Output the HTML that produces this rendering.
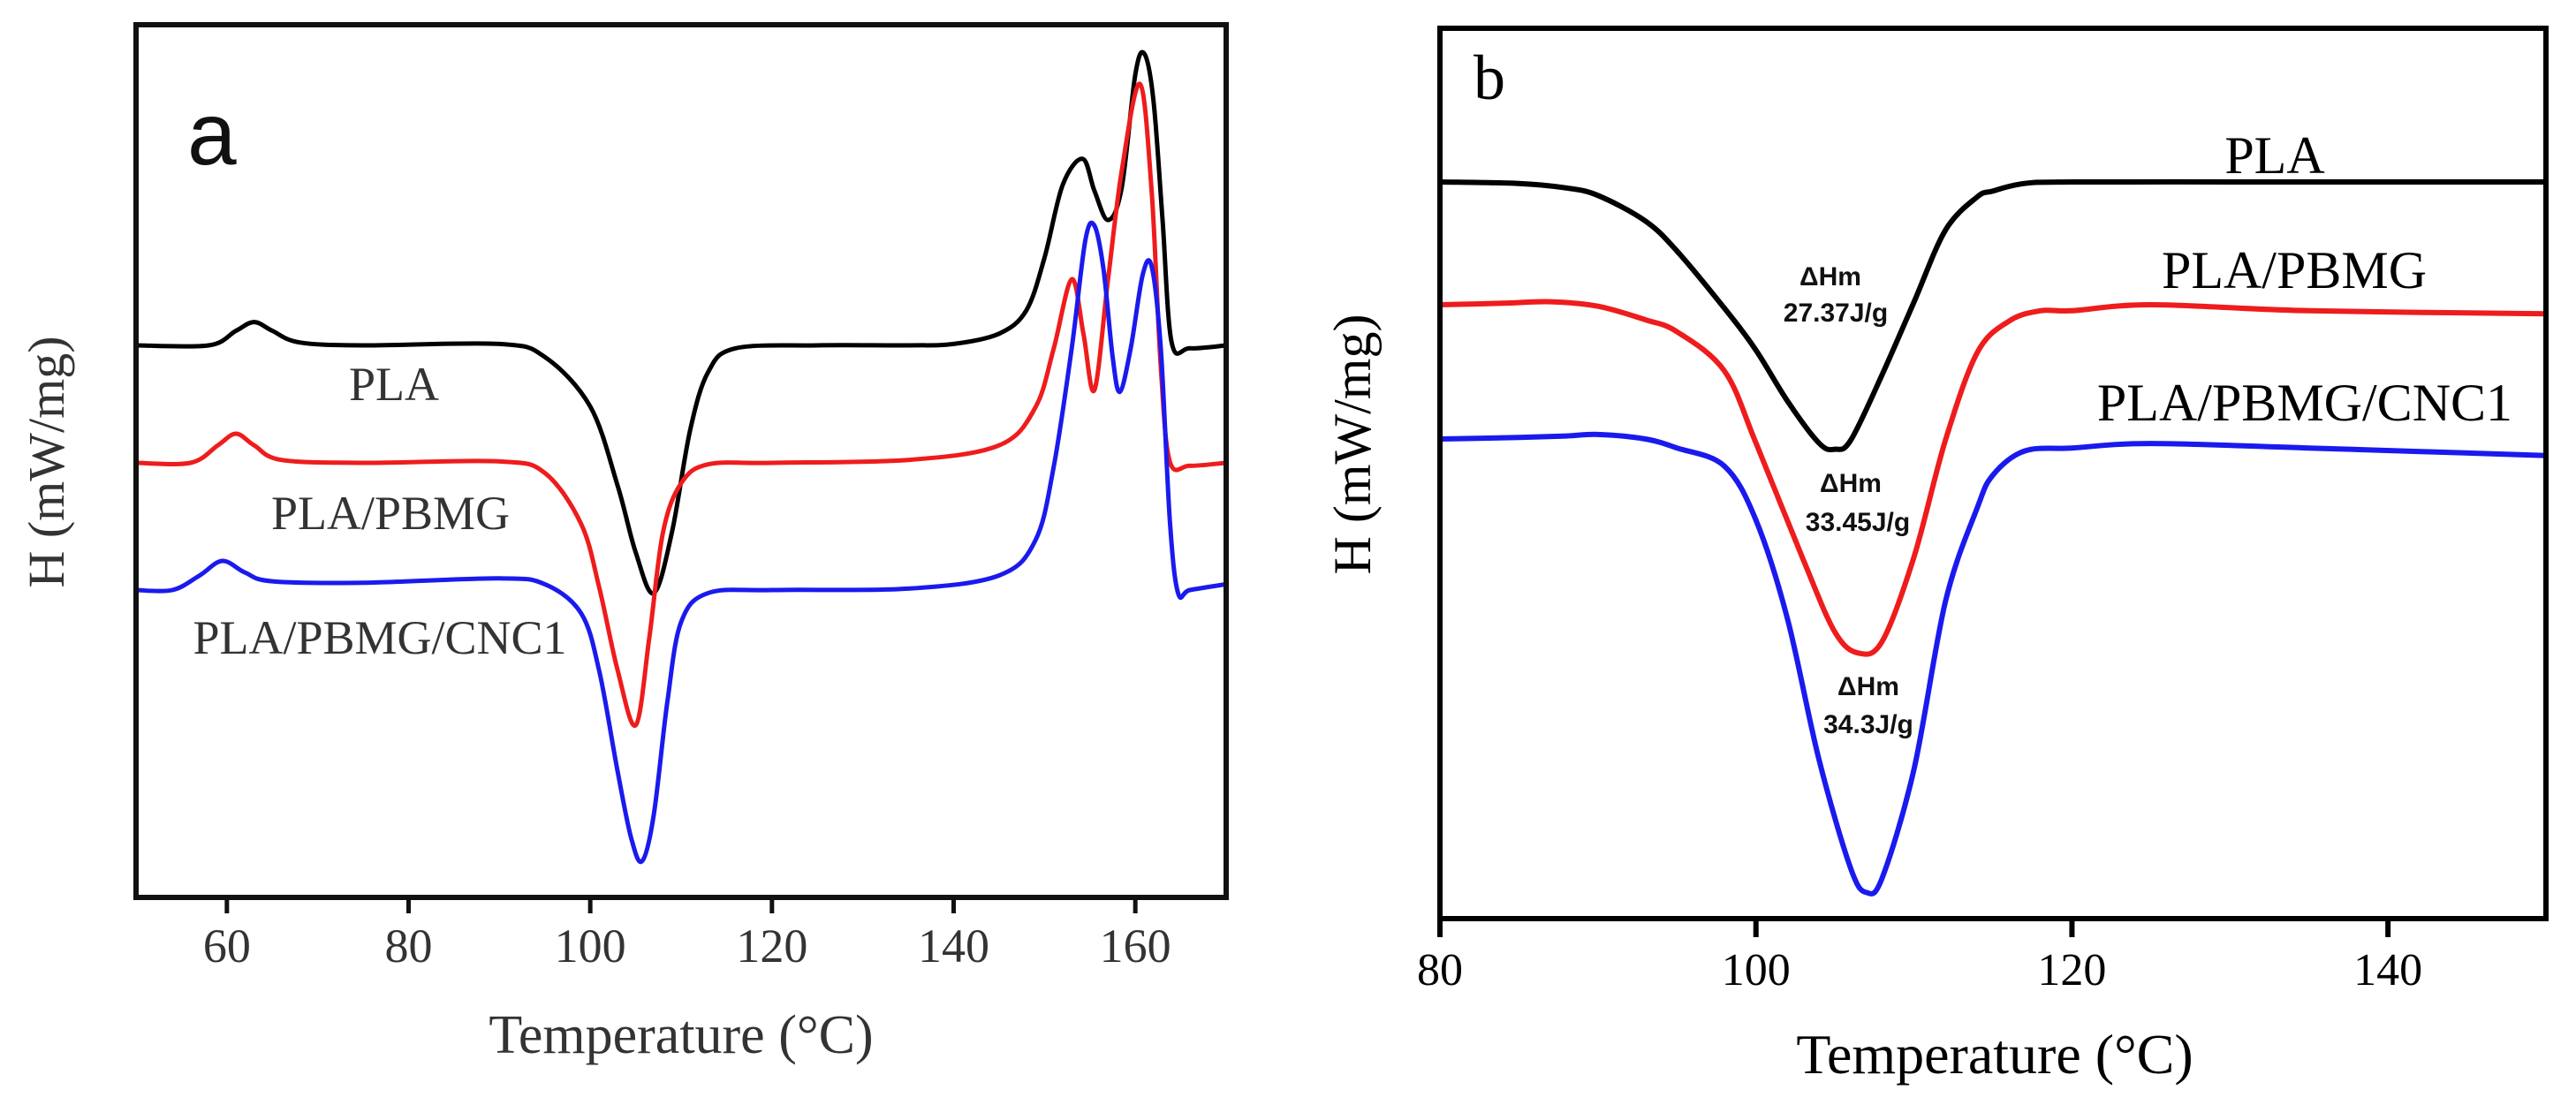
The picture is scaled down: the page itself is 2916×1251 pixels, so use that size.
<!DOCTYPE html>
<html><head><meta charset="utf-8"><style>
html,body{margin:0;padding:0;background:#fff;}
svg{display:block;}
text{font-family:"Liberation Serif",serif;}
</style></head><body>
<svg id="fig" width="2916" height="1251" viewBox="0 0 2916 1251" xmlns="http://www.w3.org/2000/svg">
<g id="pa"></g>
<g id="pb"></g>
</svg>
<script>
// ---- Panel a data ----
const aTicks = [60, 80, 100, 120, 140, 160];
const aPLA_T = [50,58,61,63,65,68,75,90,95,100,103,105,107,109,111,113,116,125,135,140,145,148,150,152,154.2,155.5,157,158.5,160,161,162,163,164,166,170];
const aPLA_H = [0,0,0.5,0.8,0.5,0.1,0,0.05,-0.4,-2.1,-4.8,-7.1,-8.5,-6.4,-2.9,-0.9,-0.1,0,0,0.05,0.4,1.2,3.0,5.5,6.4,5.3,4.3,5.4,9.3,10.0,8.4,4.3,0.1,-0.1,0];
const aPBMG_T = [50,56,59,61,63,66,75,90,95,99,101,103,105,106.5,108,110,113,120,135,145,149,151,153,154.3,155.5,157,158.5,160.5,161.8,162.8,163.8,166,170];
const aPBMG_H = [0,0,0.6,1.0,0.6,0.1,0,0.05,-0.35,-2.1,-4.3,-7.1,-9.0,-6.0,-2.4,-0.7,-0.05,0,0.1,0.6,1.9,3.9,6.3,4.4,2.5,6.3,10.0,13.0,9.3,3.3,0.05,-0.1,0];
const aCNC_T = [50,54,57,59.5,62,65,75,90,95,99,101,103,104.5,105.7,107,108.5,110,113,120,135,145,149,151,153,154.5,155.5,156.5,157.5,158.3,159.5,160.8,161.8,162.8,163.8,164.7,166,170];
const aCNC_H = [0,0,0.5,1.0,0.6,0.3,0.25,0.4,0.2,-0.8,-2.8,-6.2,-8.5,-9.3,-7.7,-3.8,-1.1,-0.1,0,0.05,0.5,1.7,4.2,8.3,12.0,12.5,11.0,8.0,6.8,8.3,10.8,11.1,8.3,2.4,-0.1,0,0.2];
const aBase = [391, 524, 668];
const aNames = ["PLA","PLA/PBMG","PLA/PBMG/CNC1"];
// ---- Panel b data ----
const bTicks = [80, 100, 120, 140];
const bPLA_T = [80,85,88,90,93,95,98,100,102,104,105,106,108,110,112,114,115,117,120,130,140,150];
const bPLA_H = [0,-0.05,-0.2,-0.45,-1.3,-2.3,-4.2,-5.6,-7.3,-8.7,-8.9,-8.6,-6.4,-4.0,-1.6,-0.5,-0.3,-0.05,0,0,0,0];
const bPBMG_T = [80,84,87,90,93,95,98,100,103,105,106.5,108,110,112,114,116,118,120,125,135,150];
const bPBMG_H = [0,0.05,0.1,-0.05,-0.5,-0.9,-2.2,-4.6,-8.5,-10.9,-11.6,-11.2,-8.4,-4.5,-1.6,-0.55,-0.2,-0.2,0,-0.2,-0.3];
const bCNC_T = [80,85,88,90,93,95,98,100,102,104,106,107,108,110,112,114,115,117,120,125,135,150];
const bCNC_H = [0,0.05,0.1,0.15,0,-0.3,-0.9,-2.7,-6.0,-10.7,-14.3,-15.1,-14.6,-11.0,-5.4,-2.3,-1.2,-0.4,-0.3,-0.15,-0.3,-0.55];
const bBase = [206, 345, 497];
const bNames = ["PLA","PLA/PBMG","PLA/PBMG/CNC1"];
const dHm = ["27.37J/g","33.45J/g","34.3J/g"];

const NS="http://www.w3.org/2000/svg";
function mk(parent, tag, attrs){const e=document.createElementNS(NS,tag);for(const k in attrs)e.setAttribute(k,attrs[k]);parent.appendChild(e);return e;}
function pathD(xs, ys){
  let d="M"+xs[0].toFixed(1)+","+ys[0].toFixed(1);
  for(let i=0;i<xs.length-1;i++){
    const x0=xs[Math.max(i-1,0)],y0=ys[Math.max(i-1,0)],x1=xs[i],y1=ys[i],x2=xs[i+1],y2=ys[i+1],x3=xs[Math.min(i+2,xs.length-1)],y3=ys[Math.min(i+2,xs.length-1)];
    const c1x=x1+(x2-x0)/6,c1y=y1+(y2-y0)/6,c2x=x2-(x3-x1)/6,c2y=y2-(y3-y1)/6;
    d+=" C"+c1x.toFixed(1)+","+c1y.toFixed(1)+" "+c2x.toFixed(1)+","+c2y.toFixed(1)+" "+x2.toFixed(1)+","+y2.toFixed(1);
  }
  return d;
}
const colors=["#000000","#ee1c1c","#1a1aee"];

// ----- Panel a -----
(function(){
  const g=document.getElementById('pa');
  const L=154,R=1388,T=28,B=1016,x0=50,x1=170;
  const xa=t=>L+(t-x0)*(R-L)/(x1-x0);
  const ya=(h,base)=>base-h*33;
  const series=[[aPLA_T,aPLA_H],[aPBMG_T,aPBMG_H],[aCNC_T,aCNC_H]];
  series.forEach((s,i)=>{
    const p=mk(g,'path',{d:pathD(s[0].map(xa),s[1].map(h=>ya(h,aBase[i]))),fill:'none',stroke:colors[i],'stroke-width':5,'stroke-linejoin':'round'});
    
    
  });
  const fr=mk(g,'rect',{x:L,y:T,width:R-L,height:B-T,fill:'none',stroke:'#111','stroke-width':6});
  
  
  aTicks.forEach(t=>{
    const tk=mk(g,'line',{x1:xa(t),x2:xa(t),y1:B,y2:B+18,stroke:'#111','stroke-width':5});
    
    
    const tl=mk(g,'text',{x:xa(t),y:1089,'font-size':54,'text-anchor':'middle',fill:'#333'});
    tl.textContent=t;
    
    
  });
  const lab=[[446,453],[442,599],[430,740]];
  aNames.forEach((n,i)=>{
    const t=mk(g,'text',{x:lab[i][0],y:lab[i][1],'font-size':54,'text-anchor':'middle',fill:'#333'});
    t.textContent=n;
    
    
  });
  const a=mk(g,'text',{x:212,y:186,'font-size':100,fill:'#111',style:'font-family:"Liberation Sans",sans-serif'});
  a.textContent='a';
  
  
  const yt=mk(g,'text',{x:0,y:0,'font-size':58,'text-anchor':'middle',fill:'#333',transform:'translate(72,523) rotate(-90)'});
  yt.textContent='H (mW/mg)';
  
  
  const xt=mk(g,'text',{x:771,y:1192,'font-size':62,'text-anchor':'middle',fill:'#333'});
  xt.textContent='Temperature (°C)';
  
  
})();

// ----- Panel b -----
(function(){
  const g=document.getElementById('pb');
  const L=1630,R=2882,T=32,B=1040,x0=80,x1=150;
  const xb=t=>L+(t-x0)*(R-L)/(x1-x0);
  const yb=(h,base)=>base-h*34;
  const series=[[bPLA_T,bPLA_H],[bPBMG_T,bPBMG_H],[bCNC_T,bCNC_H]];
  series.forEach((s,i)=>{
    const p=mk(g,'path',{d:pathD(s[0].map(xb),s[1].map(h=>yb(h,bBase[i]))),fill:'none',stroke:colors[i],'stroke-width':6,'stroke-linejoin':'round'});
    
    
  });
  const fr=mk(g,'rect',{x:L,y:T,width:R-L,height:B-T,fill:'none',stroke:'#000','stroke-width':6});
  
  
  bTicks.forEach(t=>{
    const tk=mk(g,'line',{x1:xb(t),x2:xb(t),y1:B,y2:B+21,stroke:'#000','stroke-width':6});
    
    
    const tl=mk(g,'text',{x:xb(t),y:1115,'font-size':52,'text-anchor':'middle',fill:'#000'});
    tl.textContent=t;
    
    
  });
  const lab=[[2575,196],[2597,326],[2609,476]];
  bNames.forEach((n,i)=>{
    const t=mk(g,'text',{x:lab[i][0],y:lab[i][1],'font-size':60,'text-anchor':'middle',fill:'#000'});
    t.textContent=n;
    
    
  });
  const dpos=[[2072,323,2078,364],[2095,557,2103,601],[2115,787,2115,830]];
  dHm.forEach((v,i)=>{
    const t1=mk(g,'text',{x:dpos[i][0],y:dpos[i][1],'font-size':30,'font-weight':'bold','text-anchor':'middle',fill:'#111',style:'font-family:"Liberation Sans",sans-serif'});
    t1.textContent='ΔHm';
    
    
    const t2=mk(g,'text',{x:dpos[i][2],y:dpos[i][3],'font-size':30,'font-weight':'bold','text-anchor':'middle',fill:'#111',style:'font-family:"Liberation Sans",sans-serif'});
    t2.textContent=v;
    
    
  });
  const b=mk(g,'text',{x:1668,y:112,'font-size':72,fill:'#000'});
  b.textContent='b';
  
  
  const yt=mk(g,'text',{x:0,y:0,'font-size':60,'text-anchor':'middle',fill:'#000',transform:'translate(1551,503) rotate(-90)'});
  yt.textContent='H (mW/mg)';
  
  
  const xt=mk(g,'text',{x:2258,y:1215,'font-size':64,'text-anchor':'middle',fill:'#000'});
  xt.textContent='Temperature (°C)';
  
  
})();
</script>
</body></html>
